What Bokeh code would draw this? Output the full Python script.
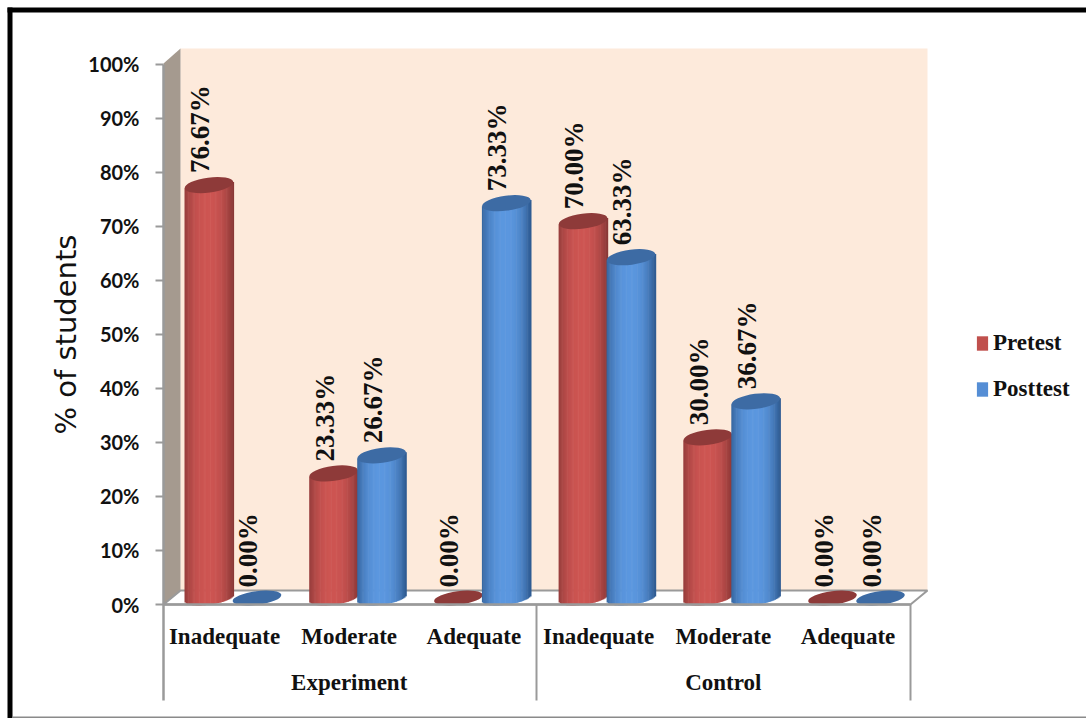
import math
from bokeh.core.properties import value
from bokeh.embed import file_html
from bokeh.models import ColumnDataSource, FixedTicker, Legend, LegendItem, LinearAxis, Range1d
from bokeh.plotting import figure
from bokeh.resources import INLINE

# Survey results: share of students per knowledge level
categories = ["Inadequate", "Moderate", "Adequate", "Inadequate", "Moderate", "Adequate"]
groups = ["Experiment", "Control"]
pretest = [76.67, 23.33, 0.00, 70.00, 30.00, 0.00]
posttest = [0.00, 26.67, 73.33, 63.33, 36.67, 0.00]
y_ticks = [0, 10, 20, 30, 40, 50, 60, 70, 80, 90, 100]

W, H = 1086, 718
X0_PX, X_UNIT = 224.0, 124.7        # pixel of category 0, pixels per category
Y0_PX, Y_UNIT = 604.0, 5.405        # pixel of 0 %, pixels per percent
DEPTH_PX = 8.5                      # sideways shift of the cylinders into the box


def ux(px):
    return (px - X0_PX) / X_UNIT


def uy(px):
    return (Y0_PX - px) / Y_UNIT


p = figure(width=W, height=H, output_backend="svg", toolbar_location=None,
           x_range=Range1d(ux(0), ux(W)), y_range=Range1d(uy(H), uy(0)),
           x_axis_location=None, y_axis_location=None,
           min_border=0, outline_line_color=None, background_fill_color="white",
           border_fill_color="white")
p.grid.visible = False

# Outer picture border
p.quad(left=[ux(7), ux(7)], right=[ux(12), ux(W)], top=[uy(7), uy(7)], bottom=[uy(H), uy(12)],
       fill_color="black", line_color=None)
p.quad(left=[ux(12)], right=[ux(W)], top=[uy(716)], bottom=[uy(718)], fill_color="#8a8a8a", line_color=None)

# 3D chart box: back wall, side wall, floor
GREY = "#9a9a9a"
p.patch([ux(180), ux(927), ux(927), ux(180)], [uy(48), uy(48), uy(590), uy(590)],
        fill_color="#fdeadb", line_color=None)
p.patch([ux(163), ux(180), ux(180), ux(163)], [uy(63), uy(48), uy(590), uy(604)],
        fill_color="#a59a8f", line_color=None)
p.patch([ux(163), ux(180), ux(927), ux(910)], [uy(604), uy(590), uy(590), uy(604)],
        fill_color="white", line_color=GREY, line_width=2)

# Group dividers below the floor
p.segment(x0=[ux(536), ux(910)], y0=[uy(604), uy(604)], x1=[ux(536), ux(910)], y1=[uy(700), uy(700)],
          line_color=GREY, line_width=2)
p.segment(x0=[ux(163)], y0=[uy(604)], x1=[ux(163)], y1=[uy(700)], line_color=GREY, line_width=2.5)

# Cylinder rendering constants
BAR_W = 49.0
ELL_H = 15.0
TILT = 0.13
STRIPS = 40
TOP_SHIFT = 5.0 / Y_UNIT            # top face sits a little above the floor plane
FLOOR_SHIFT = 6.5 / Y_UNIT          # centre of the base ellipse


def mix(a, b, t):
    return "#" + "".join(f"{round(a[i] + (b[i] - a[i]) * t):02x}" for i in range(3))


def cylinder(center_px, val, edge, mid, cap):
    half = BAR_W / 2
    rise = half * math.tan(TILT)
    left, right, top, bottom, color = [], [], [], [], []
    base_c = FLOOR_SHIFT
    top_c = val + TOP_SHIFT
    if val > 0:
        for k in range(STRIPS):
            a = -1 + 2 * k / STRIPS
            b = -1 + 2 * (k + 1) / STRIPS
            t = (a + b) / 2
            left.append(ux(center_px + a * half))
            right.append(ux(center_px + b * half + 0.6))
            top.append(top_c + t * rise / Y_UNIT)
            bottom.append(base_c + t * rise / Y_UNIT - math.sqrt(max(0.0, 1 - t * t)) * (13.5 / 2) / Y_UNIT)
            # broad highlight that only falls off close to the edges
            shade = 1 - (abs(t + 0.05) / 1.05) ** 2.4
            color.append(mix(edge, mid, shade))
        p.quad(left=left, right=right, top=top, bottom=bottom, fill_color=color, line_color=None)
    p.ellipse(x=[ux(center_px)], y=[top_c if val > 0 else base_c], width=BAR_W,
              height=ELL_H if val > 0 else 13.5,
              width_units="screen", height_units="screen", angle=TILT,
              fill_color=cap, line_color=None)


RED = dict(edge=(0x86, 0x36, 0x35), mid=(0xcd, 0x55, 0x52), cap="#8e3a39")
BLUE = dict(edge=(0x2c, 0x58, 0x8e), mid=(0x5b, 0x97, 0xdf), cap="#3d6ba4")

for i, (a, b) in enumerate(zip(pretest, posttest)):
    center = X0_PX + X_UNIT * i + DEPTH_PX
    cylinder(center - 24, a, **RED)
    cylinder(center + 24, b, **BLUE)

# Value labels above each cylinder
lab_x, lab_y, lab_t = [], [], []
for i, (a, b) in enumerate(zip(pretest, posttest)):
    center = X0_PX + X_UNIT * i + DEPTH_PX
    for off, v in ((-24, a), (24, b)):
        lab_x.append(ux(center + off - 9))
        lab_y.append(v)
        lab_t.append(f"{v:.2f}%")
labels = ColumnDataSource(dict(x=lab_x, y=lab_y, t=lab_t))
p.text(x="x", y="y", text="t", source=labels, angle=math.pi / 2, y_offset=-17,
       text_font=value("Liberation Serif"), text_font_style="bold", text_font_size="27px",
       text_align="left", text_baseline="middle", text_color="#111111")

# Percent axis
yax = LinearAxis(fixed_location=ux(163), bounds=(0, 100),
                 ticker=FixedTicker(ticks=y_ticks),
                 major_label_overrides={t: f"{t}%" for t in y_ticks},
                 axis_label="% of students", axis_label_standoff=2,
                 axis_label_text_font="DejaVu Sans", axis_label_text_font_size="29px",
                 axis_label_text_font_style="normal", axis_label_text_color="#111111",
                 major_label_text_font="Lato", major_label_text_font_size="20px",
                 major_label_text_font_style="bold", major_label_text_color="#111111",
                 major_label_standoff=16,
                 major_tick_in=0, major_tick_out=8, minor_tick_line_color=None,
                 major_tick_line_color=GREY, major_tick_line_width=2,
                 axis_line_color=GREY, axis_line_width=2.5)
p.add_layout(yax, "left")

# Category axis along the front edge of the floor
xax = LinearAxis(fixed_location=0, bounds=(ux(163), ux(910)),
                 ticker=FixedTicker(ticks=list(range(len(categories)))),
                 major_label_overrides={i: c for i, c in enumerate(categories)},
                 major_label_text_font="Liberation Serif", major_label_text_font_size="23px",
                 major_label_text_font_style="bold", major_label_text_color="#111111",
                 major_label_standoff=13, major_tick_line_color=None, minor_tick_line_color=None,
                 axis_line_color=GREY, axis_line_width=2.5)
p.add_layout(xax, "below")

# Group axis under the categories
gax = LinearAxis(fixed_location=0, ticker=FixedTicker(ticks=[1, 4]),
                 major_label_overrides={1: groups[0], 4: groups[1]},
                 major_label_text_font="Liberation Serif", major_label_text_font_size="23px",
                 major_label_text_font_style="bold", major_label_text_color="#111111",
                 major_label_standoff=59, major_tick_line_color=None, minor_tick_line_color=None,
                 axis_line_color=None)
p.add_layout(gax, "below")

# Legend: the swatch quads have no visible extent, they only carry the colours
nan = float("nan")
empty = dict(left=[nan], right=[nan], top=[nan], bottom=[nan])
r_pre = p.quad(source=ColumnDataSource(empty), left="left", right="right", top="top", bottom="bottom",
               fill_color="#c0504d", line_color=None)
r_post = p.quad(source=ColumnDataSource(empty), left="left", right="right", top="top", bottom="bottom",
                fill_color="#558ed5", line_color=None)
legend = Legend(items=[LegendItem(label="Pretest", renderers=[r_pre]),
                       LegendItem(label="Posttest", renderers=[r_post])],
                location=(975, 316), orientation="vertical", spacing=20,
                glyph_width=14, glyph_height=18, label_standoff=4, padding=0, margin=0,
                border_line_color=None, background_fill_alpha=0,
                label_text_font="Liberation Serif", label_text_font_size="23px",
                label_text_font_style="bold", label_text_color="#111111")
p.add_layout(legend, "center")

open("out.html", "w").write(file_html(p, INLINE))
